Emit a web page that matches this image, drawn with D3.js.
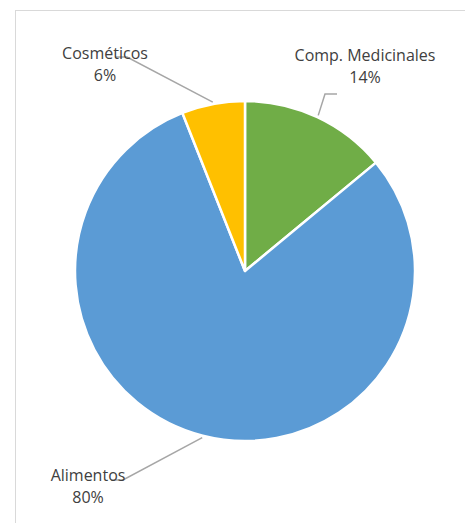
<!DOCTYPE html>
<meta charset="utf-8">
<script src="https://d3js.org/d3.v7.min.js"></script>
<style>
  body { margin: 0; background: #fff; }
  text { font-family: "Open Sans", sans-serif; font-size: 16px; fill: #404040; }
</style>
<div id="chart"></div>
<script>
  // data
  const categories = ["Comp. Medicinales", "Alimentos", "Cosméticos"];
  const values = [14, 80, 6];
  const colors = ["#70AD47", "#5B9BD5", "#FFC000"];

  // layout
  const width = 465, height = 523;
  const cx = 245, cy = 271, radius = 170;
  // label anchor points (relative to pie centre) and leader elbow points
  const labelPos = [[120, -210], [-157, 210], [-140, -212]];
  const elbow = [[80, -177], [-122, 209], [-118, -214]];

  const svg = d3.select("#chart").append("svg")
    .attr("width", width)
    .attr("height", height);

  // chart frame (right/bottom fall outside the picture)
  svg.append("rect")
    .attr("x", 15.5).attr("y", 10.5)
    .attr("width", 500).attr("height", 600)
    .attr("fill", "none")
    .attr("stroke", "#D9D9D9")
    .attr("stroke-width", 1);

  const g = svg.append("g").attr("transform", `translate(${cx},${cy})`);

  const pie = d3.pie().sort(null).value(d => d)(values);
  const arc = d3.arc().innerRadius(0).outerRadius(radius);

  g.selectAll("path.slice")
    .data(pie)
    .join("path")
      .attr("class", "slice")
      .attr("d", arc)
      .attr("fill", (d, i) => colors[i])
      .attr("stroke", "#fff")
      .attr("stroke-width", 2.5)
      .attr("stroke-linejoin", "round");

  const total = d3.sum(values);

  // leader lines
  g.selectAll("polyline.leader")
    .data(pie)
    .join("polyline")
      .attr("class", "leader")
      .attr("points", (d, i) => {
        const a = (d.startAngle + d.endAngle) / 2;
        const r = radius + 2;
        const p0 = [r * Math.sin(a), -r * Math.cos(a)];
        const p1 = elbow[i];
        const p2 = [p1[0] + (i === 0 ? 12 : -12), p1[1]];
        return [p0, p1, p2].map(p => p.join(",")).join(" ");
      })
      .attr("fill", "none")
      .attr("stroke", "#A6A6A6")
      .attr("stroke-width", 1.5);

  // labels
  const lab = g.selectAll("text.lab")
    .data(pie)
    .join("text")
      .attr("class", "lab")
      .attr("text-anchor", "middle")
      .attr("transform", (d, i) => `translate(${labelPos[i][0]},${labelPos[i][1]})`);

  lab.append("tspan")
    .attr("x", 0).attr("y", 0)
    .text((d, i) => categories[i]);
  lab.append("tspan")
    .attr("x", 0).attr("y", 22)
    .text(d => Math.round(d.data / total * 100) + "%");
</script>
